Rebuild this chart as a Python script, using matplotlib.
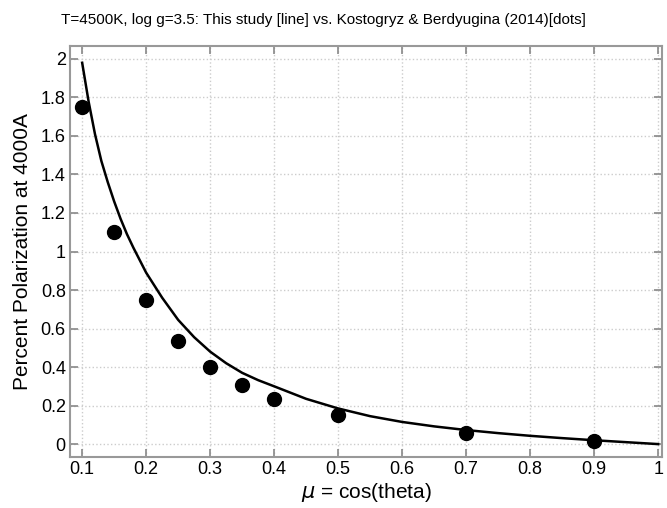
import matplotlib
matplotlib.use("Agg")
import matplotlib.pyplot as plt

# Kostogryz & Berdyugina (2014) dots
mu_dots = [0.1, 0.15, 0.2, 0.25, 0.3, 0.35, 0.4, 0.5, 0.7, 0.9]
pol_dots = [1.75, 1.10, 0.75, 0.535, 0.40, 0.305, 0.235, 0.15, 0.06, 0.015]

# This study line
mu_line = [0.1, 0.11, 0.12, 0.13, 0.14, 0.15, 0.16, 0.17, 0.18, 0.19, 0.2, 0.225, 0.25,
           0.275, 0.3, 0.325, 0.35, 0.375, 0.4, 0.45, 0.5, 0.55, 0.6, 0.65, 0.7, 0.75,
           0.8, 0.85, 0.9, 0.95, 1.0]
pol_line = [1.98, 1.78, 1.61, 1.47, 1.36, 1.26, 1.17, 1.09, 1.02, 0.955, 0.89, 0.76, 0.645,
            0.555, 0.48, 0.42, 0.37, 0.332, 0.30, 0.235, 0.185, 0.145, 0.115, 0.092, 0.073, 0.057,
            0.043, 0.031, 0.020, 0.010, 0.0]

xticks = [0.1, 0.2, 0.3, 0.4, 0.5, 0.6, 0.7, 0.8, 0.9, 1.0]
xticklabels = ["0.1", "0.2", "0.3", "0.4", "0.5", "0.6", "0.7", "0.8", "0.9", "1"]
yticks = [0, 0.2, 0.4, 0.6, 0.8, 1.0, 1.2, 1.4, 1.6, 1.8, 2.0]
yticklabels = ["0", "0.2", "0.4", "0.6", "0.8", "1", "1.2", "1.4", "1.6", "1.8", "2"]

plt.rcParams['font.family'] = ['Liberation Sans', 'DejaVu Sans']

fig = plt.figure(figsize=(6.67, 5.08), dpi=100)
ax = fig.add_axes([70/667, 1 - 457/508, (662-70)/667, (457-46)/508])

ax.plot(mu_line, pol_line, color='black', lw=1.8, zorder=3)
ax.plot(mu_dots, pol_dots, 'o', color='black', markersize=10, zorder=4)

ax.set_xlim(0.081, 1.006)
ax.set_ylim(-0.067, 2.067)
ax.set_xticks(xticks)
ax.set_xticklabels(xticklabels)
ax.set_yticks(yticks)
ax.set_yticklabels(yticklabels)
ax.tick_params(direction='in', top=True, right=True, length=6, width=1.2,
               color='#888888', labelsize=13, pad=3)
ax.grid(True, linestyle=':', color='#cccccc', lw=1.0)
for s in ax.spines.values():
    s.set_color('#999999')
    s.set_linewidth(1.5)

ax.set_xlabel(r'$\mu$ = cos(theta)', fontsize=15, labelpad=2)
ax.set_ylabel('Percent Polarization at 4000A', fontsize=15, labelpad=6)
fig.text(0.5 - 10/667, 1 - 20/508, 'T=4500K, log g=3.5: This study [line] vs. Kostogryz & Berdyugina (2014)[dots]',
         ha='center', va='center', fontsize=11)

fig.savefig('out.png', dpi=100)
